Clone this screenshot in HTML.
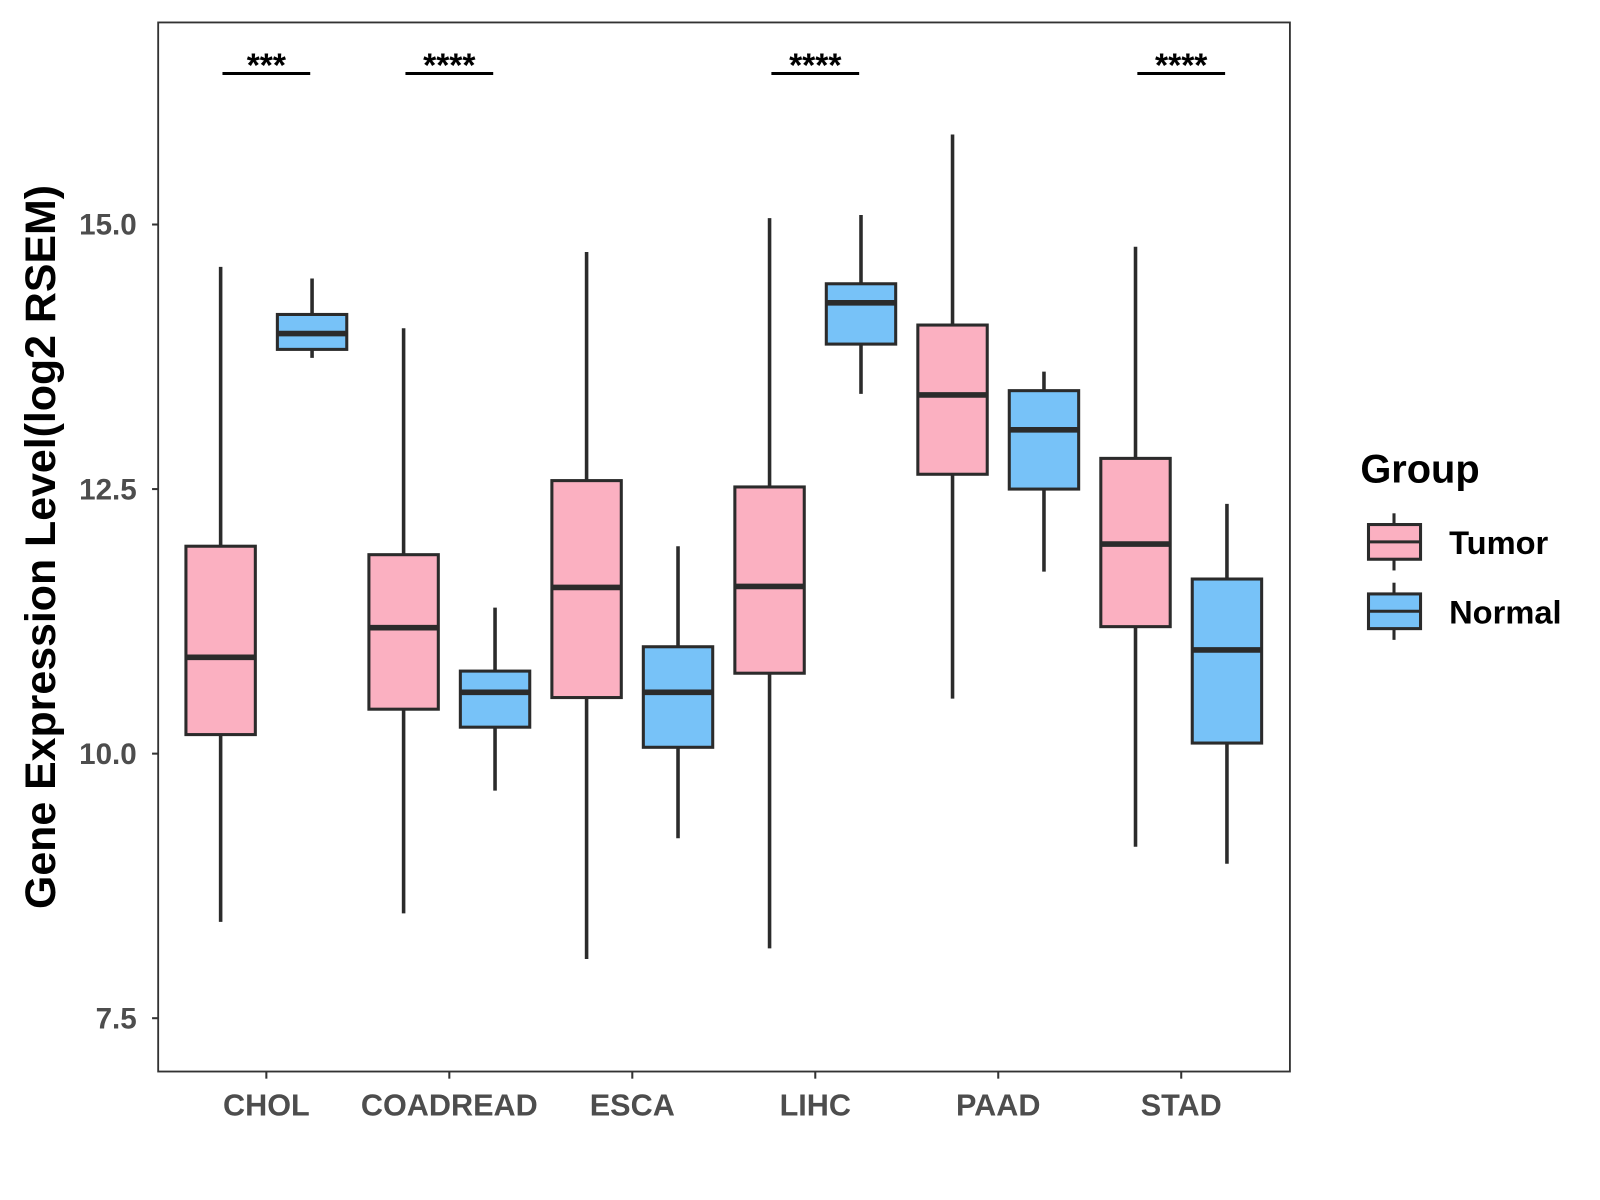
<!DOCTYPE html>
<html><head><meta charset="utf-8"><style>
body{margin:0;background:#fff;}
svg{display:block;font-family:"Liberation Sans",Arial,sans-serif;}
</style></head><body>
<svg id="chart" width="1600" height="1200" viewBox="0 0 1600 1200">
<rect x="0" y="0" width="1600" height="1200" fill="#fff"/>
<g transform="scale(1.0205)">
<g id="plot"></g>
<rect x="155" y="22" width="1109" height="1028" fill="none" stroke="#333" stroke-width="1.8"/>
<text transform="translate(54,536) rotate(-90)" text-anchor="middle" font-size="42" font-weight="bold" fill="#000">Gene Expression Level(log2 RSEM)</text>
<g>
<text x="1333" y="473" font-size="39" font-weight="bold">Group</text>
<g>
<line x1="1366" y1="503" x2="1366" y2="559" stroke="#2b2b2b" stroke-width="3"/>
<rect x="1341" y="514" width="51" height="34" fill="#fbb0c1" stroke="#2b2b2b" stroke-width="3"/>
<line x1="1341" y1="531" x2="1392" y2="531" stroke="#2b2b2b" stroke-width="3"/>
<text x="1420" y="543" font-size="32" font-weight="bold">Tumor</text></g>
<g>
<line x1="1366" y1="571" x2="1366" y2="627" stroke="#2b2b2b" stroke-width="3"/>
<rect x="1341" y="582" width="51" height="34" fill="#77c2f8" stroke="#2b2b2b" stroke-width="3"/>
<line x1="1341" y1="599" x2="1392" y2="599" stroke="#2b2b2b" stroke-width="3"/>
<text x="1420" y="611" font-size="32" font-weight="bold">Normal</text></g>
</g>
</g>
</svg>
<script>
const categories=["CHOL","COADREAD","ESCA","LIHC","PAAD","STAD"];
const tumorStats=[[8.41,10.18,10.91,11.96,14.6],[8.49,10.42,11.19,11.88,14.02],[8.06,10.53,11.57,12.58,14.74],[8.16,10.76,11.58,12.52,15.06],[10.52,12.64,13.39,14.05,15.85],[9.12,11.2,11.98,12.79,14.79]];
const normalStats=[[13.74,13.82,13.97,14.15,14.49],[9.65,10.25,10.58,10.78,11.38],[9.2,10.06,10.58,11.01,11.96],[13.4,13.87,14.26,14.44,15.09],[11.72,12.5,13.06,13.43,13.61],[8.96,10.1,10.98,11.65,12.36]];
const signif=["***","****","","****","","****"];
const yTicks=[7.5,10.0,12.5,15.0];
const NS="http://www.w3.org/2000/svg";
const g=document.getElementById('plot');
const yScale=v=>220+(15-v)*103.7;
const xScale=i=>261+i*179.3;
function mk(t,a,p){const e=document.createElementNS(NS,t);for(const k in a)e.setAttribute(k,a[k]);(p||g).appendChild(e);return e;}
yTicks.forEach(t=>{
 const l=mk('line',{x1:149,x2:155,y1:yScale(t),y2:yScale(t),stroke:'#333','stroke-width':2});
 
 
 const tx=mk('text',{x:134,y:yScale(t)+10,'text-anchor':'end','font-size':29,'font-weight':'bold',fill:'#4d4d4d'});
 tx.textContent=t.toFixed(1);
 
 
});
function box(cx,s,fill,name){
 const grp=mk('g',{});
 
 
 mk('line',{x1:cx,x2:cx,y1:yScale(s[4]),y2:yScale(s[0]),stroke:'#2b2b2b','stroke-width':3.5},grp);
 mk('rect',{x:cx-34,y:yScale(s[3]),width:68,height:yScale(s[1])-yScale(s[3]),fill:fill,stroke:'#2b2b2b','stroke-width':3},grp);
 mk('line',{x1:cx-34,x2:cx+34,y1:yScale(s[2]),y2:yScale(s[2]),stroke:'#2b2b2b','stroke-width':5.5},grp);
}
categories.forEach((c,i)=>{
 const cx=xScale(i);
 box(cx-44.8,tumorStats[i],'#fbb0c1','box-tumor-'+c.toLowerCase());
 box(cx+44.8,normalStats[i],'#77c2f8','box-normal-'+c.toLowerCase());
 const tk=mk('line',{x1:cx,x2:cx,y1:1050,y2:1057,stroke:'#333','stroke-width':2});
 
 
 const lb=mk('text',{x:cx,y:1093,'text-anchor':'middle','font-size':30,'font-weight':'bold',fill:'#4d4d4d'});
 lb.textContent=c;
 
 
 if(signif[i]){
  const sl=mk('line',{x1:cx-43,x2:cx+43,y1:72,y2:72,stroke:'#000','stroke-width':3});
  
  
  const st=mk('text',{x:cx,y:75,'text-anchor':'middle','font-size':33,'font-weight':'bold',fill:'#000'});
  st.textContent=signif[i];
  
  
 }
});
</script>
</body></html>
